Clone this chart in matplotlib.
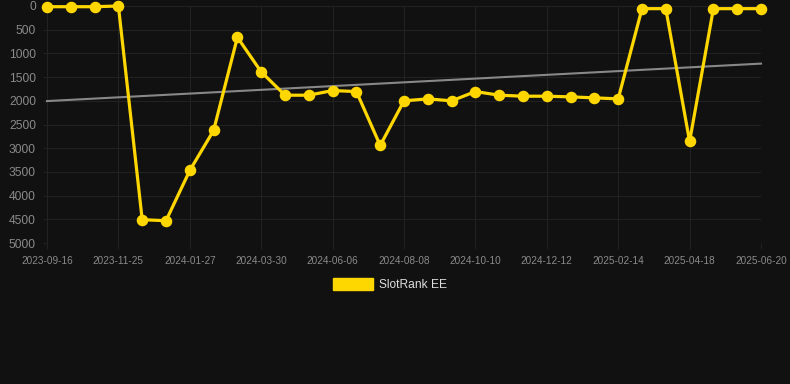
import matplotlib
matplotlib.use("Agg")
import matplotlib.pyplot as plt
import numpy as np

plt.rcParams['font.family'] = ['Liberation Sans', 'DejaVu Sans']

tick_labels = ["2023-09-16", "2023-11-25", "2024-01-27", "2024-03-30", "2024-06-06",
               "2024-08-08", "2024-10-10", "2024-12-12", "2025-02-14", "2025-04-18",
               "2025-06-20"]
rank = [15, 15, 15, 0, 4508, 4530, 3469, 2626, 660, 1390, 1882, 1882, 1784, 1805,
        2942, 2001, 1959, 2001, 1805, 1882, 1903, 1903, 1917, 1938, 1959, 56, 56,
        2858, 56, 56, 56]
series_name = "SlotRank EE"

W, H = 790, 384
fig = plt.figure(figsize=(W / 100, H / 100), dpi=100)
fig.patch.set_facecolor("#111111")
ax = fig.add_axes([47 / W, 1 - 243 / H, (761 - 47) / W, (243 - 6) / H])
ax.set_facecolor("#111111")

x = np.arange(len(rank))
y = np.array(rank, dtype=float)

# trend line (linear regression)
k, b = np.polyfit(x, y, 1)
ax.plot(x, k * x + b, color="#888888", lw=1.5, zorder=2, clip_on=False)

ax.plot(x, y, color="#FFD700", lw=2.3, marker="o", markersize=7.3,
        markerfacecolor="#FFD700", markeredgecolor="#FFD700", zorder=3, clip_on=False)

ax.set_xlim(0, len(rank) - 1)
ax.set_ylim(5000, 0)
ax.set_yticks(np.arange(0, 5001, 500))
ax.set_yticklabels([str(v) for v in range(0, 5001, 500)])
ax.set_xticks(np.arange(0, len(rank), 3))
ax.set_xticklabels(tick_labels)

ax.grid(True, color="#222222", lw=0.8)
ax.set_axisbelow(True)
for s in ax.spines.values():
    s.set_visible(False)
ax.tick_params(axis="y", colors="#222222", labelcolor="#8a8a8a", labelsize=8.64, length=3, pad=5)
ax.tick_params(axis="x", colors="#222222", labelcolor="#8a8a8a", labelsize=7.2, length=4, pad=5)

# legend
fig.patches.append(plt.Rectangle((333 / W, 1 - 289.5 / H), 40 / W, 11.5 / H,
                                 transform=fig.transFigure, color="#FFD700"))
fig.text(379 / W, 1 - 284.5 / H, series_name, color="#dddddd", fontsize=8.64,
         va="center", ha="left")

fig.savefig("out.png", dpi=100, facecolor=fig.get_facecolor())
